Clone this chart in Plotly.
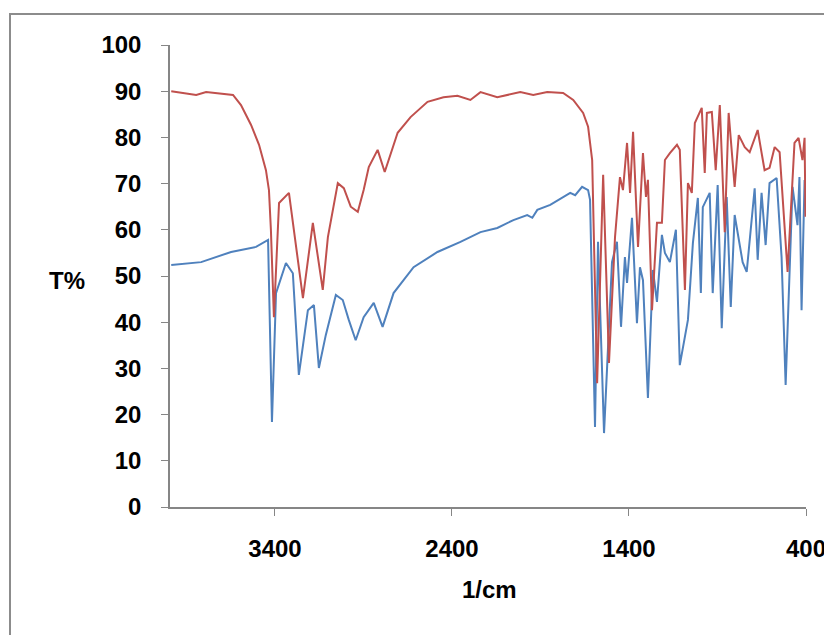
import plotly.graph_objects as go

# Red spectrum (wavenumber 1/cm, T%)
red_wn = [3986, 3901, 3845, 3789, 3704, 3637, 3592, 3535, 3490, 3451, 3434, 3423, 3406,
          3377, 3321, 3242, 3186, 3130, 3101, 3045, 3011, 2972, 2932, 2899, 2870, 2820,
          2780, 2746, 2707, 2634, 2538, 2448, 2369, 2296, 2239, 2144, 2014, 1941, 1862,
          1772, 1715, 1659, 1631, 1608, 1580, 1546, 1513, 1479, 1451, 1434, 1411, 1394,
          1377, 1349, 1321, 1304, 1293, 1270, 1242, 1214, 1197, 1169, 1129, 1113, 1084,
          1067, 1045, 1028, 989, 972, 960, 932, 910, 887, 859, 837, 803, 780, 746, 718,
          673, 634, 606, 577, 549, 504, 465, 442, 420, 408, 403]
red_t = [90.0, 89.6, 89.2, 89.8, 89.4, 89.2, 87.0, 82.7, 78.4, 72.9, 68.6, 60.0, 41.1,
         65.8, 68.0, 45.2, 61.5, 47.0, 58.4, 70.1, 69.0, 65.0, 63.9, 68.6, 73.6, 77.3,
         72.5, 76.6, 81.0, 84.4, 87.7, 88.7, 89.0, 88.1, 89.8, 88.7, 89.8, 89.2, 89.8,
         89.6, 88.1, 85.3, 82.3, 75.1, 26.8, 71.9, 31.2, 58.4, 71.4, 68.6, 78.8, 68.0,
         81.2, 56.3, 76.6, 67.1, 70.8, 42.6, 61.5, 61.5, 75.1, 76.6, 78.4, 77.3, 47.0,
         70.1, 68.0, 83.1, 86.4, 72.3, 85.3, 85.5, 72.9, 87.0, 59.5, 85.3, 69.3, 80.5,
         77.9, 76.8, 81.6, 72.9, 73.4, 77.9, 76.8, 50.9, 78.8, 79.9, 75.1, 79.9, 62.8]

# Blue spectrum
blue_wn = [3986, 3817, 3648, 3507, 3439, 3417, 3394, 3338, 3299, 3265, 3214, 3180, 3152,
           3113, 3056, 3017, 2983, 2944, 2899, 2842, 2792, 2730, 2617, 2482, 2352, 2239,
           2144, 2053, 1975, 1946, 1918, 1845, 1732, 1704, 1665, 1631, 1620, 1592, 1575,
           1541, 1496, 1468, 1445, 1423, 1411, 1383, 1355, 1338, 1321, 1293, 1265, 1242,
           1214, 1197, 1169, 1135, 1113, 1067, 1039, 1011, 994, 983, 944, 927, 899, 876,
           848, 825, 803, 758, 735, 690, 673, 651, 628, 606, 566, 538, 515, 476, 448, 437,
           425, 408]
blue_t = [52.4, 53.0, 55.2, 56.3, 57.8, 18.4, 46.3, 52.8, 50.6, 28.6, 42.6, 43.7, 30.1,
          37.2, 45.9, 44.8, 40.5, 36.1, 41.1, 44.2, 39.0, 46.3, 51.9, 55.2, 57.4, 59.5,
          60.4, 62.1, 63.2, 62.6, 64.3, 65.4, 68.0, 67.5, 69.3, 68.6, 66.5, 17.3, 57.4,
          16.0, 53.0, 57.4, 39.0, 54.1, 48.5, 62.6, 39.8, 51.9, 49.1, 23.6, 51.3, 44.4,
          58.9, 55.0, 53.0, 60.0, 30.7, 40.5, 57.1, 66.9, 46.3, 64.9, 68.0, 46.3, 69.7,
          38.7, 67.1, 43.3, 63.2, 53.0, 50.9, 69.0, 53.5, 68.0, 56.7, 70.1, 71.2, 54.1,
          26.4, 69.3, 61.0, 71.4, 42.6, 70.8]

x_ticks = [3400, 2400, 1400, 400]
y_ticks = list(range(0, 101, 10))

# plot area in reference pixels: x 170..806, y 45..507
PL, PR, PT, PB = 170, 806, 45, 507
PW, PH = PR - PL, PB - PT
OFF = 8  # page body offset

fig = go.Figure()
fig.add_trace(go.Scatter(x=blue_wn, y=blue_t, mode="lines",
                         line=dict(color="#4F81BD", width=2), showlegend=False))
fig.add_trace(go.Scatter(x=red_wn, y=red_t, mode="lines",
                         line=dict(color="#C0504D", width=2), showlegend=False))

axis_font = dict(family="Liberation Sans", size=24, color="#000000", weight="bold")
fig.update_xaxes(range=[3993, 400], tickvals=x_ticks, ticktext=[str(v) for v in x_ticks],
                 showgrid=False, zeroline=False, showline=True, linecolor="#868686",
                 linewidth=1.5, ticks="outside", ticklen=7, tickcolor="#868686",
                 tickfont=axis_font, ticklabelstandoff=12)
fig.update_yaxes(range=[0, 100], tickvals=y_ticks, showgrid=False, zeroline=False,
                 showline=True, linecolor="#868686", linewidth=1.5, ticks="outside",
                 ticklen=7, tickcolor="#868686", tickfont=axis_font, ticklabelstandoff=15)

fig.add_annotation(text="T%", xref="paper", yref="paper", x=(67 - PL) / PW,
                   y=(PB - 280) / PH, xanchor="center", yanchor="middle",
                   showarrow=False, font=axis_font)
fig.add_annotation(text="1/cm", xref="paper", yref="paper", x=(489 - PL) / PW,
                   y=(PB - 589) / PH, xanchor="center", yanchor="middle",
                   showarrow=False, font=axis_font)

fig.add_shape(type="rect", xref="paper", yref="paper",
              x0=(10 - PL) / PW, x1=(900 - PL) / PW,
              y0=(PB - 700) / PH, y1=(PB - 14) / PH,
              line=dict(color="#8C8C8C", width=2), fillcolor="rgba(0,0,0,0)", layer="below")

fig.update_layout(width=832, height=635,
                  margin=dict(l=PL - OFF, r=832 - (PR - OFF), t=PT - OFF, b=635 - (PB - OFF)),
                  plot_bgcolor="white", paper_bgcolor="white")
fig.write_html("out.html")
